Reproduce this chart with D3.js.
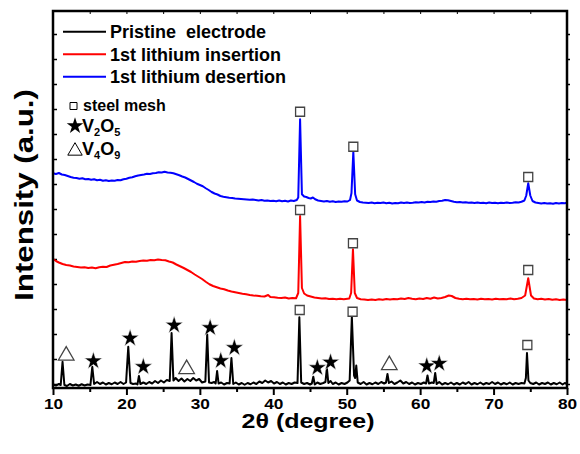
<!DOCTYPE html>
<html>
<head>
<meta charset="utf-8">
<script src="https://cdn.jsdelivr.net/npm/d3@7"></script>
<style>
  body { margin: 0; background: #fff; }
  #xrd { width: 580px; height: 454px; }
  text { font-family: "Liberation Sans", Arial, sans-serif; font-weight: bold; }
</style>
</head>
<body>
<div id="xrd"></div>
<script>
// x axis ticks (2 theta, degree)
var xTicks = [10, 20, 30, 40, 50, 60, 70, 80];
var xMinorTicks = [15, 25, 35, 45, 55, 65, 75];

// legend names
var seriesNames = ["Pristine  electrode", "1st lithium insertion", "1st lithium desertion"];
var seriesColors = ["#000000", "#ff0000", "#0000ff"];

// pristine electrode [2theta, intensity]
var pristine = [
  [10,0.14],[10.4,0.1],[10.8,0.16],[11.05,0.12],[11.3,1.05],[11.55,0.12],[11.9,0.08],[12.3,0.16],[12.7,0.1],[13.1,0.14],
  [13.5,0.09],[13.9,0.15],[14.3,0.1],[14.7,0.14],[15.1,0.12],[15.35,0.85],[15.6,0.16],[16,0.24],[16.4,0.16],[16.8,0.22],
  [17.2,0.14],[17.6,0.2],[18,0.15],[18.4,0.22],[18.8,0.16],[19.2,0.24],[19.6,0.16],[19.95,0.22],[20.25,1.65],[20.55,0.2],
  [20.9,0.16],[21.3,0.18],[21.5,0.14],[21.7,0.48],[21.9,0.16],[22.3,0.22],[22.7,0.16],[23.1,0.24],[23.5,0.18],[23.9,0.28],
  [24.3,0.2],[24.7,0.3],[25.1,0.22],[25.5,0.32],[25.9,0.28],[26.15,2.2],[26.4,0.3],[26.7,0.4],[27.1,0.28],[27.5,0.38],
  [27.9,0.26],[28.3,0.36],[28.7,0.28],[29.1,0.4],[29.5,0.3],[29.9,0.36],[30.3,0.22],[30.75,0.26],[31.0,2.15],[31.25,0.22],
  [31.6,0.2],[31.95,0.24],[32.15,0.18],[32.35,0.68],[32.55,0.18],[32.9,0.22],[33.3,0.14],[33.7,0.2],[34.05,0.18],[34.3,1.2],
  [34.55,0.16],[34.9,0.22],[35.3,0.14],[35.7,0.2],[36.1,0.13],[36.5,0.2],[36.9,0.15],[37.3,0.22],[37.7,0.16],[38.1,0.26],
  [38.5,0.2],[38.9,0.3],[39.3,0.22],[39.7,0.28],[40.1,0.18],[40.5,0.24],[40.9,0.16],[41.3,0.22],[41.7,0.14],[42.1,0.2],
  [42.5,0.16],[42.9,0.22],[43.3,0.2],[43.55,2.83],[43.8,0.22],[44.2,0.16],[44.6,0.2],[45,0.14],[45.25,0.18],[45.45,0.45],
  [45.65,0.14],[46,0.22],[46.4,0.16],[46.8,0.2],[47.1,0.24],[47.3,0.8],[47.5,0.2],[47.8,0.28],[48.1,0.16],[48.5,0.22],
  [48.9,0.14],[49.3,0.2],[49.7,0.16],[50.1,0.22],[50.4,0.3],[50.7,2.85],[51.0,0.5],[51.15,0.4],[51.3,0.9],[51.5,0.22],
  [51.9,0.16],[52.3,0.24],[52.7,0.14],[53.1,0.2],[53.5,0.15],[53.9,0.22],[54.3,0.16],[54.7,0.24],[55.1,0.18],[55.35,0.22],
  [55.55,0.56],[55.75,0.2],[56.1,0.26],[56.5,0.16],[56.9,0.22],[57.3,0.3],[57.7,0.18],[58.1,0.24],[58.5,0.16],[58.9,0.22],
  [59.3,0.14],[59.7,0.2],[60.1,0.16],[60.5,0.22],[60.8,0.18],[61.0,0.5],[61.2,0.18],[61.6,0.22],[61.85,0.2],[62.05,0.6],
  [62.25,0.16],[62.6,0.24],[63,0.14],[63.4,0.2],[63.8,0.15],[64.2,0.22],[64.6,0.14],[65,0.2],[65.4,0.14],[65.8,0.22],
  [66.2,0.16],[66.6,0.24],[67,0.14],[67.4,0.2],[67.8,0.15],[68.2,0.22],[68.6,0.14],[69,0.2],[69.4,0.16],[69.8,0.24],
  [70.2,0.16],[70.6,0.22],[71,0.14],[71.4,0.2],[71.8,0.15],[72.2,0.22],[72.6,0.14],[73,0.2],[73.4,0.16],[73.8,0.2],
  [74.2,0.18],[74.4,0.4],[74.55,1.4],[74.75,0.3],[75.0,0.2],[75.4,0.16],[75.8,0.22],[76.2,0.14],[76.6,0.2],[77,0.16],
  [77.4,0.22],[77.8,0.14],[78.2,0.2],[78.6,0.15],[79,0.22],[79.4,0.14],[79.7,0.2],[80,0.16]
];

// 1st lithium insertion
var insertion = [
  [10,5.16],[10.4,5.08],[10.8,5.02],[11.3,4.96],[11.8,4.92],[12.3,4.9],[12.8,4.86],[13.3,4.84],[13.8,4.82],[14.3,4.83],
  [14.8,4.8],[15.3,4.82],[15.8,4.79],[16.3,4.83],[16.8,4.85],[17.3,4.84],[17.8,4.9],[18.3,4.93],[18.8,4.96],[19.3,5.0],
  [19.8,5.04],[20.3,5.03],[20.8,5.06],[21.3,5.05],[21.8,5.08],[22.3,5.1],[22.8,5.09],[23.3,5.12],[23.8,5.11],[24.3,5.14],
  [24.8,5.12],[25.3,5.11],[25.8,5.06],[26.3,5.02],[26.8,4.94],[27.3,4.87],[27.8,4.8],[28.3,4.72],[28.8,4.64],[29.3,4.54],
  [29.8,4.45],[30.3,4.36],[30.8,4.25],[31.3,4.15],[31.8,4.08],[32.3,4.03],[32.8,3.98],[33.3,3.95],[33.8,3.9],[34.3,3.86],
  [34.8,3.83],[35.3,3.8],[35.8,3.77],[36.3,3.75],[36.8,3.72],[37.3,3.7],[37.8,3.69],[38.3,3.67],[38.8,3.66],[39.3,3.72],
  [39.6,3.64],[40.1,3.63],[40.6,3.61],[41.1,3.6],[41.6,3.62],[42.1,3.58],[42.6,3.6],[43.1,3.59],[43.4,3.8],[43.65,6.88],
  [43.9,4.0],[44.2,3.78],[44.6,3.7],[45.1,3.66],[45.6,3.62],[46.1,3.6],[46.6,3.58],[47.1,3.59],[47.6,3.56],[48.1,3.57],
  [48.6,3.55],[49.1,3.57],[49.6,3.55],[50.35,3.58],[50.6,3.8],[50.85,5.55],[51.1,3.8],[51.4,3.6],[51.9,3.55],[52.4,3.54],
  [52.9,3.52],[53.4,3.54],[53.9,3.52],[54.4,3.55],[54.9,3.53],[55.4,3.56],[55.9,3.54],[56.4,3.56],[56.9,3.55],[57.4,3.58],
  [57.9,3.56],[58.4,3.6],[58.9,3.57],[59.4,3.55],[59.9,3.58],[60.4,3.56],[60.9,3.6],[61.4,3.57],[61.9,3.62],[62.4,3.58],
  [62.9,3.6],[63.4,3.64],[63.9,3.7],[64.3,3.68],[64.8,3.6],[65.3,3.57],[65.8,3.55],[66.3,3.57],[66.8,3.55],[67.3,3.56],
  [67.8,3.54],[68.3,3.57],[68.8,3.55],[69.3,3.56],[69.8,3.54],[70.3,3.57],[70.8,3.55],[71.3,3.56],[71.8,3.55],[72.3,3.58],
  [72.8,3.55],[73.3,3.57],[73.8,3.6],[74.3,3.7],[74.72,4.39],[75.1,3.7],[75.5,3.58],[76,3.55],[76.5,3.57],[77,3.54],
  [77.5,3.56],[78,3.53],[78.5,3.55],[79,3.52],[79.5,3.54],[80,3.52]
];

// 1st lithium desertion
var desertion = [
  [10,8.59],[10.4,8.56],[10.8,8.6],[11.2,8.54],[11.6,8.52],[12,8.48],[12.4,8.44],[12.8,8.41],[13.2,8.4],[13.6,8.37],
  [14,8.39],[14.4,8.35],[14.8,8.36],[15.2,8.33],[15.6,8.35],[16,8.31],[16.4,8.33],[16.8,8.29],[17.2,8.31],[17.6,8.28],
  [18,8.3],[18.4,8.29],[18.8,8.32],[19.2,8.31],[19.6,8.35],[20,8.37],[20.4,8.41],[20.8,8.43],[21.2,8.47],[21.6,8.5],
  [22,8.52],[22.4,8.54],[22.8,8.57],[23.2,8.56],[23.6,8.59],[24,8.6],[24.4,8.63],[24.8,8.62],[25.2,8.65],[25.6,8.62],
  [26,8.61],[26.4,8.59],[26.8,8.55],[27.2,8.51],[27.6,8.46],[28,8.42],[28.4,8.36],[28.8,8.3],[29.2,8.24],[29.6,8.17],
  [30,8.12],[30.4,8.07],[30.8,7.99],[31.2,7.92],[31.6,7.84],[32,7.78],[32.4,7.74],[32.8,7.68],[33.2,7.65],[33.6,7.63],
  [34,7.61],[34.4,7.6],[34.8,7.58],[35.2,7.57],[35.6,7.56],[36,7.55],[36.4,7.54],[36.8,7.53],[37.2,7.54],[37.6,7.52],
  [38,7.5],[38.4,7.52],[38.8,7.49],[39.2,7.5],[39.6,7.48],[40,7.49],[40.4,7.47],[40.8,7.5],[41.2,7.47],[41.6,7.49],
  [42,7.46],[42.4,7.5],[42.8,7.48],[43.2,7.52],[43.4,7.62],[43.65,10.75],[43.9,7.75],[44.2,7.66],[44.5,7.64],[44.8,7.6],
  [45.1,7.58],[45.4,7.62],[45.7,7.55],[46.1,7.5],[46.5,7.48],[46.9,7.46],[47.3,7.48],[47.7,7.45],[48.1,7.47],[48.5,7.44],
  [48.9,7.46],[49.3,7.45],[49.7,7.47],[50.1,7.46],[50.45,7.52],[50.65,7.8],[50.9,9.45],[51.15,7.75],[51.4,7.5],[51.8,7.44],
  [52.2,7.42],[52.6,7.41],[53,7.4],[53.4,7.42],[53.8,7.39],[54.2,7.41],[54.6,7.4],[55,7.42],[55.4,7.39],[55.8,7.41],
  [56.2,7.38],[56.6,7.4],[57,7.39],[57.4,7.42],[57.8,7.4],[58.2,7.42],[58.6,7.4],[59,7.41],[59.4,7.43],[59.8,7.42],
  [60.2,7.44],[60.6,7.42],[61,7.45],[61.4,7.44],[61.8,7.46],[62.2,7.45],[62.6,7.48],[63,7.49],[63.4,7.52],[63.8,7.51],
  [64.2,7.48],[64.6,7.45],[65,7.43],[65.4,7.44],[65.8,7.42],[66.2,7.43],[66.6,7.41],[67,7.42],[67.4,7.4],[67.8,7.42],
  [68.2,7.4],[68.6,7.41],[69,7.39],[69.4,7.42],[69.8,7.4],[70.2,7.41],[70.6,7.39],[71,7.41],[71.4,7.4],[71.8,7.42],
  [72.2,7.4],[72.6,7.41],[73,7.43],[73.4,7.42],[73.8,7.45],[74.2,7.5],[74.45,7.7],[74.72,8.19],[75.0,7.7],[75.3,7.48],
  [75.7,7.42],[76.1,7.4],[76.5,7.38],[76.9,7.4],[77.3,7.38],[77.7,7.39],[78.1,7.37],[78.5,7.4],[78.9,7.38],[79.3,7.4],
  [79.7,7.39],[80,7.41]
];

// phase markers: type, 2theta, level
var markerTypes = [
  "tri", "star", "star", "star", "star", "tri", "star", "star", "star", "sq",
  "star", "star", "sq", "tri", "star", "star", "sq",
  "sq", "sq", "sq",
  "sq", "sq", "sq"
];
var markerTheta = [
  11.8, 15.5, 20.5, 22.3, 26.5, 28.2, 31.4, 32.85, 34.7, 43.6,
  46.0, 47.8, 50.8, 55.8, 60.9, 62.6, 74.6,
  43.65, 50.85, 74.72,
  43.65, 50.9, 74.72
];
var markerLevel = [
  1.39, 1.08, 1.99, 0.85, 2.51, 0.85, 2.41, 1.09, 1.61, 3.12,
  0.81, 1.03, 3.05, 1.01, 0.88, 0.98, 1.72,
  7.12, 5.79, 4.72,
  11.05, 9.65, 8.44
];

// margins for the plot area
var margin = {
  top: 11,
  right: 13,
  bottom: 66,
  left: 53
};

var width = 580;
var height = 454;

var svg = d3.select("#xrd")
  .append("svg")
  .attr("width", width)
  .attr("height", height);

// scales
var xScale = d3.scaleLinear()
  .domain([10, 80])
  .range([margin.left, width - margin.right]);

var yScale = d3.scaleLinear()
  .domain([0, 15.08])
  .range([height - margin.bottom, margin.top]);

var yTickValues = d3.range(0.16, 15, 1);

// bottom axis, major ticks (labels are a bit wide in the original)
svg.append("g")
  .attr("class", "x axis")
  .attr("transform", "translate(0," + (height - margin.bottom) + ")")
  .call(d3.axisBottom(xScale)
    .tickValues(xTicks)
    .tickSize(7)
    .tickPadding(3)
    .tickFormat(d3.format("d")))
  .call(function(g) {
    g.select(".domain").remove();
    g.selectAll(".tick line").attr("stroke-width", 2);
    g.selectAll("text")
      .style("font-size", "15px")
      .attr("fill", "#000")
      .attr("transform", "scale(1.15,1)");
  });

// bottom axis, minor ticks
svg.append("g")
  .attr("transform", "translate(0," + (height - margin.bottom) + ")")
  .call(d3.axisBottom(xScale).tickValues(xMinorTicks).tickSize(4).tickFormat(""))
  .call(function(g) {
    g.select(".domain").remove();
    g.selectAll(".tick line").attr("stroke-width", 2);
  });

// top ticks (inside)
svg.append("g")
  .attr("transform", "translate(0," + margin.top + ")")
  .call(d3.axisBottom(xScale).tickValues(xTicks.concat(xMinorTicks)).tickSize(3).tickFormat(""))
  .call(function(g) {
    g.select(".domain").remove();
    g.selectAll(".tick line").attr("stroke-width", 1);
  });

// left ticks (inside)
svg.append("g")
  .attr("transform", "translate(" + margin.left + ",0)")
  .call(d3.axisRight(yScale).tickValues(yTickValues).tickSize(4).tickFormat(""))
  .call(function(g) {
    g.select(".domain").remove();
    g.selectAll(".tick line").attr("stroke-width", 1.5);
  });

// right ticks
svg.append("g")
  .attr("transform", "translate(" + (width - margin.right) + ",0)")
  .call(d3.axisRight(yScale).tickValues(yTickValues).tickSize(3).tickFormat(""))
  .call(function(g) {
    g.select(".domain").remove();
    g.selectAll(".tick line").attr("stroke-width", 1.5);
  });

// line generator
var line = d3.line()
  .x(function(d) { return xScale(d[0]); })
  .y(function(d) { return yScale(d[1]); });

var traces = [pristine, insertion, desertion];

svg.selectAll(".trace")
  .data(traces)
  .enter()
  .append("path")
  .attr("class", "trace")
  .attr("d", line)
  .attr("fill", "none")
  .attr("stroke", function(d, i) { return seriesColors[i]; })
  .attr("stroke-width", 2)
  .attr("stroke-linejoin", "round");

// frame
svg.append("rect")
  .attr("x", xScale(10))
  .attr("y", yScale(15.08))
  .attr("width", xScale(80) - xScale(10))
  .attr("height", yScale(0) - yScale(15.08))
  .attr("fill", "none")
  .attr("stroke", "#000")
  .attr("stroke-width", 2.5);

// marker shapes
var starSym = d3.symbol().type(d3.symbolStar).size(100);
var triSym = d3.symbol().type(d3.symbolTriangle).size(105);
var sqSym = d3.symbol().type(d3.symbolSquare).size(81);

var markers = svg.selectAll(".marker")
  .data(markerTypes)
  .enter()
  .append("path")
  .attr("class", "marker")
  .attr("transform", function(d, i) {
    var off = d == "tri" ? 2.3 : 0;
    return "translate(" + xScale(markerTheta[i]) + "," + (yScale(markerLevel[i]) + off) + ")";
  })
  .attr("d", function(d) {
    if (d == "star") return starSym();
    if (d == "tri") return triSym();
    return sqSym();
  })
  .attr("fill", function(d) { return d == "star" ? "#000" : "#fff"; })
  .attr("stroke", function(d) { return d == "star" ? "#fff" : "#444"; })
  .attr("stroke-width", function(d) { return d == "star" ? 0.6 : 1.3; });

// legend for the three traces
var legend = svg.append("g");
seriesNames.forEach(function(name, i) {
  var ly = 31.7 + i * 22.5;
  legend.append("line")
    .attr("x1", 63).attr("x2", 106)
    .attr("y1", ly).attr("y2", ly)
    .attr("stroke", seriesColors[i])
    .attr("stroke-width", 2);
  legend.append("text")
    .attr("x", 110)
    .attr("y", ly + 6.5)
    .style("font-size", "18px")
    .style("white-space", "pre")
    .attr("xml:space", "preserve")
    .text(name);
});

// legend for the phase markers
legend.append("path")
  .attr("transform", "translate(73.5,106)")
  .attr("d", d3.symbol().type(d3.symbolSquare).size(49)())
  .attr("fill", "#fff")
  .attr("stroke", "#000")
  .attr("stroke-width", 1);
legend.append("text")
  .attr("x", 83).attr("y", 111)
  .style("font-size", "16px")
  .text("steel mesh");

legend.append("path")
  .attr("transform", "translate(75,126)")
  .attr("d", d3.symbol().type(d3.symbolStar).size(85)())
  .attr("fill", "#000");

legend.append("path")
  .attr("transform", "translate(75,151)")
  .attr("d", d3.symbol().type(d3.symbolTriangle).size(90)())
  .attr("fill", "#fff")
  .attr("stroke", "#000")
  .attr("stroke-width", 1);

function formula(y, a, b) {
  var t = legend.append("text").attr("x", 82).attr("y", y).style("font-size", "18px");
  t.append("tspan").text("V");
  t.append("tspan").attr("dy", 4).style("font-size", "11px").text(a);
  t.append("tspan").attr("dy", -4).text("O");
  t.append("tspan").attr("dy", 4).style("font-size", "11px").text(b);
}
formula(132, "2", "5");
formula(155, "4", "9");

// axis titles (stretched sideways like the original)
svg.append("text")
  .attr("text-anchor", "middle")
  .attr("transform", "translate(" + ((xScale(10) + xScale(80)) / 2 - 2) + ",428) scale(1.25,1)")
  .style("font-size", "20px")
  .text("2θ (degree)");

svg.append("text")
  .attr("text-anchor", "middle")
  .attr("transform", "translate(33,195) rotate(-90) scale(1.25,1)")
  .style("font-size", "25px")
  .text("Intensity (a.u.)");
</script>
</body>
</html>
